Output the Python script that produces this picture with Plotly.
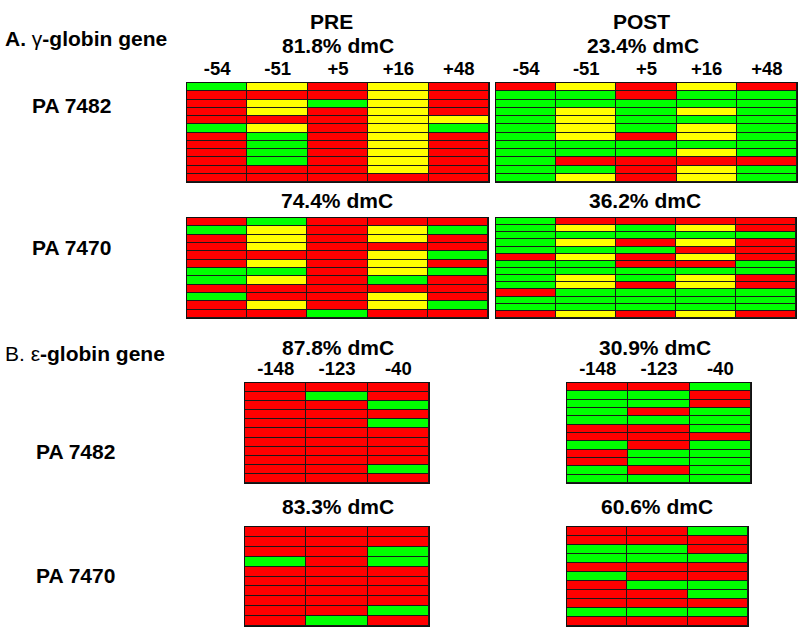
import plotly.graph_objects as go

W, H = 800, 629

# Cell codes: R = methylated (red), Y = partial (yellow), G = unmethylated (green)
gamma_sites = ["-54", "-51", "+5", "+16", "+48"]
eps_sites = ["-148", "-123", "-40"]

gamma_pre_7482 = ["GYRYR", "RRRYR", "RYGYR", "RYRYR", "RRRYY", "GYRYG",
                  "RGRYR", "RGRYR", "RGRYR", "RGRYR", "RRRYR", "RRRRR"]
gamma_post_7482 = ["RYRYR", "GGRGG", "GGGGG", "GYGYG", "GYGGG", "GYGYG",
                   "GYRYG", "GGGGG", "GGGYG", "GRRRR", "GGRYG", "GYRYG"]
gamma_pre_7470 = ["RGRRR", "GYRYG", "RYRYR", "RYRRR", "RRRYG", "RYRYR",
                  "GGRYG", "GYRGR", "RRRRR", "GRRYR", "RYRYG", "RRGRR"]
gamma_post_7470 = ["GRRRR", "GYGYR", "GGGGG", "GYRYR", "GGGRR", "RYRYR", "GGRRG",
                   "GGGGG", "GYGYR", "GYRYR", "RGGGG", "GGGGG", "GGGGG", "RYRYR"]
eps_pre_7482 = ["RRR", "RGR", "RRG", "RRR", "RRG", "RRR", "RRR", "RRR", "RRR", "RRG", "RRR"]
eps_post_7482 = ["RRG", "GGR", "GGR", "GRG", "GGG", "RRG", "RRR", "GRG", "RGG", "RGG", "GRG", "GGG"]
eps_pre_7470 = ["RRR", "RRR", "RRG", "GRG", "RRR", "RRR", "RRR", "RRR", "RRG", "RGR"]
eps_post_7470 = ["RRG", "RRR", "GGR", "GGG", "RRR", "GRR", "RGG", "RRG", "RRR", "GGG", "RRR"]

pct_labels = ["81.8% dmC", "23.4% dmC", "74.4% dmC", "36.2% dmC",
              "87.8% dmC", "30.9% dmC", "83.3% dmC", "60.6% dmC"]

code_val = {"G": 0, "Y": 1, "R": 2}
colorscale = [[0, "#00FF00"], [0.3333, "#00FF00"], [0.3333, "#FFFF00"],
              [0.6667, "#FFFF00"], [0.6667, "#FF0000"], [1, "#FF0000"]]

# panel boxes in window pixels: x0, x1, y0(top), y1(bottom)
panels = [
    (gamma_pre_7482, gamma_sites, (187, 489, 83, 182), True),
    (gamma_post_7482, gamma_sites, (496, 797, 83, 182), True),
    (gamma_pre_7470, gamma_sites, (187, 488, 218, 318), False),
    (gamma_post_7470, gamma_sites, (496, 796, 218, 318), False),
    (eps_pre_7482, eps_sites, (245, 429, 383, 483), True),
    (eps_post_7482, eps_sites, (567, 751, 383, 483), True),
    (eps_pre_7470, eps_sites, (245, 429, 527, 626), False),
    (eps_post_7470, eps_sites, (567, 748, 527, 626), False),
]

def fx(px):
    return px / W

def fy(py):
    return 1 - py / H

FONT = "Liberation Sans, Arial, sans-serif"
fig = go.Figure()
layout = {}
for i, (rows, sites, (x0, x1, y0, y1), show_lab) in enumerate(panels):
    n = i + 1
    xa = "x" if n == 1 else f"x{n}"
    ya = "y" if n == 1 else f"y{n}"
    z = [[code_val[c] for c in r] for r in rows]
    fig.add_trace(go.Heatmap(
        z=z, x=list(range(len(sites))), y=list(range(len(rows))),
        colorscale=colorscale, zmin=0, zmax=2, showscale=False,
        xgap=1, ygap=1, xaxis=xa, yaxis=ya, hoverinfo="skip"))
    layout[f"xaxis{'' if n == 1 else n}"] = dict(
        domain=[fx(x0), fx(x1)], range=[-0.5, len(sites) - 0.5],
        anchor=ya, side="top", showgrid=False, zeroline=False,
        showline=True, mirror=True, linecolor="#111", linewidth=1,
        tickmode="array", tickvals=list(range(len(sites))),
        ticktext=[f"<b>{s}</b>" for s in sites], showticklabels=show_lab,
        ticks="", tickfont=dict(family=FONT, size=18.5, color="black"))
    layout[f"yaxis{'' if n == 1 else n}"] = dict(
        domain=[fy(y1), fy(y0)], range=[len(rows) - 0.5, -0.5],
        anchor=xa, showgrid=False, zeroline=False, showticklabels=False,
        showline=True, mirror=True, linecolor="#111", linewidth=1, ticks="")

fig.update_layout(**layout)

def ann(text, x, y, size=21, anchor="center"):
    return dict(text=text, x=fx(x), y=fy(y), xref="paper", yref="paper",
                showarrow=False, xanchor=anchor, yanchor="middle",
                font=dict(family=FONT, size=size, color="black"))

pct_pos = [(338, 45), (643, 45), (337, 200), (645, 200),
           (338, 347), (655, 347), (338, 506), (657, 506)]
annotations = [
    ann("<b>PRE</b>", 331, 22),
    ann("<b>POST</b>", 641, 22),
    ann("<b>A. </b>γ<b>-globin gene</b>", 3, 38, anchor="left"),
    ann("B. ε<b>-globin gene</b>", 3, 353, anchor="left"),
    ann("<b>PA 7482</b>", 30, 105, anchor="left"),
    ann("<b>PA 7470</b>", 30, 248, anchor="left"),
    ann("<b>PA 7482</b>", 34, 451, anchor="left"),
    ann("<b>PA 7470</b>", 34, 575, anchor="left"),
]
for t, (px, py) in zip(pct_labels, pct_pos):
    annotations.append(ann(f"<b>{t}</b>", px, py))

fig.update_layout(
    width=W, height=H, autosize=False,
    margin=dict(l=0, r=0, t=0, b=0),
    paper_bgcolor="white", plot_bgcolor="#1a1a1a",
    annotations=annotations, showlegend=False)

# remove the page's default body margin so the figure fills the window exactly
fig.write_html("out.html",
               config={"displayModeBar": False, "staticPlot": True},
               post_script="document.body.style.margin='0';document.body.style.overflow='hidden';")
